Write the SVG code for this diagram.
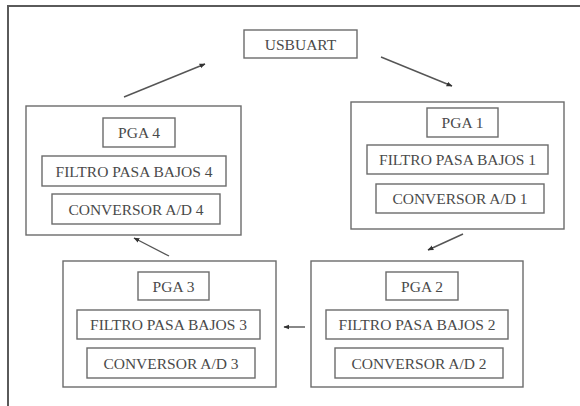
<svg xmlns="http://www.w3.org/2000/svg" width="580" height="406" viewBox="0 0 580 406">
<defs>
<style>
.box{fill:#fff;stroke:#6b6b6b;stroke-width:1.4}
.frame{fill:none;stroke:#5a5a5a;stroke-width:2}
.t{font-family:"Liberation Serif","DejaVu Serif",serif;font-size:15.5px;fill:#4a4a4a;text-anchor:middle}
.c{stroke:#555;stroke-width:1.4;fill:none;marker-end:url(#ah)}
</style>
<marker id="ah" viewBox="0 0 10 10" refX="9" refY="5" markerWidth="6" markerHeight="6" orient="auto" markerUnits="userSpaceOnUse">
<path d="M0,1 L10,5 L0,9 z" fill="#333"/>
</marker>
</defs>
<rect width="580" height="406" fill="#fff"/>
<path class="frame" d="M8,406 V6 H580"/>
<g id="usbuart">
<rect class="box" x="244" y="30" width="113" height="28"/>
<text class="t" x="300.5" y="50" font-family="Liberation Serif, serif">USBUART</text>
</g>
<g id="bloque1">
<rect class="box" x="351" y="102" width="213" height="127"/>
<rect class="box" x="427" y="108" width="71" height="29"/>
<text class="t" x="462.5" y="128">PGA 1</text>
<rect class="box" x="367" y="145" width="181" height="29"/>
<text class="t" x="457.5" y="165">FILTRO PASA BAJOS 1</text>
<rect class="box" x="376" y="184" width="168" height="29"/>
<text class="t" x="460" y="204">CONVERSOR A/D 1</text>
</g>
<g id="bloque4">
<rect class="box" x="26" y="106" width="215" height="129"/>
<rect class="box" x="103" y="118" width="72" height="29"/>
<text class="t" x="139" y="138">PGA 4</text>
<rect class="box" x="42" y="156" width="184" height="30"/>
<text class="t" x="134" y="177">FILTRO PASA BAJOS 4</text>
<rect class="box" x="52" y="194" width="168" height="30"/>
<text class="t" x="136" y="215">CONVERSOR A/D 4</text>
</g>
<g id="bloque3">
<rect class="box" x="63" y="261" width="213" height="126"/>
<rect class="box" x="138" y="272" width="71" height="28"/>
<text class="t" x="173.5" y="292">PGA 3</text>
<rect class="box" x="77" y="310" width="183" height="29"/>
<text class="t" x="168.5" y="330">FILTRO PASA BAJOS 3</text>
<rect class="box" x="87" y="348" width="168" height="30"/>
<text class="t" x="171" y="369">CONVERSOR A/D 3</text>
</g>
<g id="bloque2">
<rect class="box" x="311" y="261" width="212" height="126"/>
<rect class="box" x="386" y="272" width="72" height="28"/>
<text class="t" x="422" y="292">PGA 2</text>
<rect class="box" x="326" y="310" width="182" height="29"/>
<text class="t" x="417" y="330">FILTRO PASA BAJOS 2</text>
<rect class="box" x="335" y="348" width="168" height="30"/>
<text class="t" x="419" y="369">CONVERSOR A/D 2</text>
</g>
<g id="conectores">
<line class="c" x1="124" y1="97" x2="205" y2="64"/>
<line class="c" x1="381" y1="57" x2="452" y2="86"/>
<line class="c" x1="463" y1="234" x2="428" y2="250"/>
<line class="c" x1="305" y1="327" x2="284" y2="327"/>
<line class="c" x1="169" y1="256" x2="134" y2="238"/>
</g>
</svg>
